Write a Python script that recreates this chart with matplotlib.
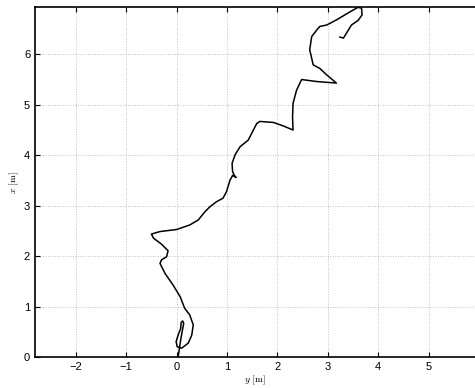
import matplotlib
matplotlib.use('Agg')
import matplotlib.pyplot as plt

# trajectoria (y, x) em metros
traj_y = [0.03, 0.05, 0.08, 0.11, 0.14, 0.12, 0.09, 0.08, 0.03, -0.01, 0.01, 0.10,
          0.23, 0.30, 0.33, 0.26, 0.16, 0.07, -0.07, -0.23, -0.33, -0.30, -0.20, -0.17,
          -0.30, -0.46, -0.50, -0.33, 0.00, 0.26, 0.43, 0.56, 0.66, 0.79, 0.92, 0.99,
          1.06, 1.11, 1.18, 1.14, 1.11, 1.10, 1.16, 1.26, 1.42, 1.59, 1.65, 1.92, 2.12,
          2.31, 2.30, 2.31, 2.38, 2.48, 2.78, 3.17, 2.98, 2.84, 2.71, 2.68, 2.64, 2.68,
          2.78, 2.84, 2.98, 3.17, 3.44, 3.60, 3.67, 3.68, 3.60, 3.47, 3.37, 3.31, 3.24]
traj_x = [0.00, 0.14, 0.34, 0.51, 0.67, 0.72, 0.69, 0.57, 0.44, 0.31, 0.21, 0.18,
          0.28, 0.44, 0.64, 0.84, 0.97, 1.20, 1.43, 1.66, 1.86, 1.93, 1.99, 2.11,
          2.24, 2.36, 2.44, 2.49, 2.53, 2.62, 2.72, 2.88, 2.98, 3.08, 3.15, 3.28,
          3.51, 3.60, 3.56, 3.61, 3.68, 3.84, 4.01, 4.17, 4.30, 4.63, 4.67, 4.65, 4.58,
          4.50, 4.76, 5.03, 5.29, 5.50, 5.46, 5.43, 5.59, 5.72, 5.79, 5.92, 6.09, 6.35,
          6.48, 6.55, 6.58, 6.68, 6.84, 6.93, 6.91, 6.78, 6.67, 6.58, 6.42, 6.32, 6.34]

xticks = [-2, -1, 0, 1, 2, 3, 4, 5]
yticks = [0, 1, 2, 3, 4, 5, 6]

plt.rcParams['font.family'] = ['Liberation Sans', 'DejaVu Sans']
plt.rcParams['mathtext.fontset'] = 'cm'

fig = plt.figure(figsize=(4.75, 3.88), dpi=100)
ax = fig.add_axes([35/475, 30.7/388, 440/475, 350/388])

ax.plot(traj_y, traj_x, color='black', linewidth=1.1)

ax.set_xlim(-2.81, 5.92)
ax.set_ylim(0, 6.93)
ax.set_xticks(xticks)
ax.set_yticks(yticks)
ax.tick_params(direction='in', length=3.5, labelsize=8, top=True, width=0.8)
ax.grid(True, linestyle=(0, (1, 2)), color='0.68', linewidth=0.6)

for s in ['left', 'bottom', 'top']:
    ax.spines[s].set_linewidth(1.2)
ax.spines['right'].set_visible(False)

ax.set_xlabel(r'$y\ [\mathrm{m}]$', fontsize=7, labelpad=1)
ax.set_ylabel(r'$x\ [\mathrm{m}]$', fontsize=7, labelpad=2)

fig.savefig('out.png', dpi=100)
